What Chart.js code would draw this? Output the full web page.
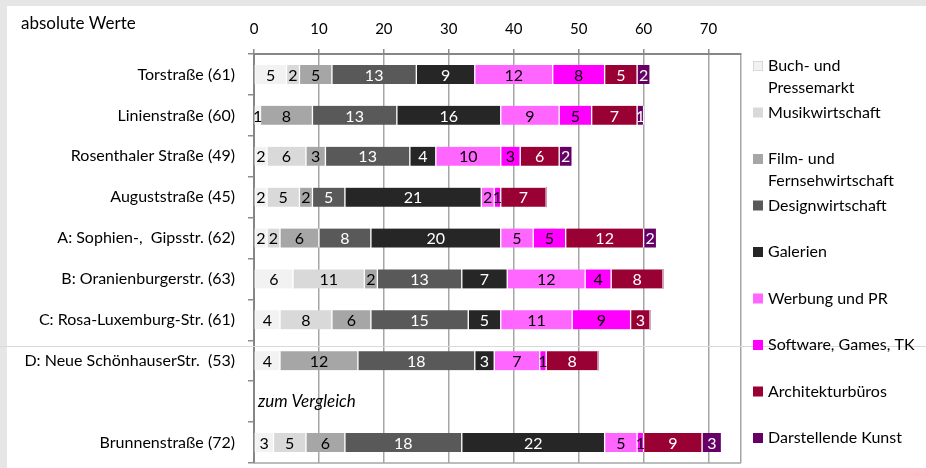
<!DOCTYPE html>
<html>
<head>
<meta charset="utf-8">
<script src="https://cdn.jsdelivr.net/npm/chart.js@4/dist/chart.umd.min.js"></script>
<style>
  html, body { margin: 0; padding: 0; background: #ffffff; }
  #wrap { position: relative; width: 926px; height: 468px; }
  canvas { display: block; }
</style>
</head>
<body>
<div id="wrap"><canvas id="c" width="926" height="468"></canvas></div>
<script>
// Streets (total number of businesses in brackets); the empty slot holds the "zum Vergleich" note
const categories = [
  'Torstraße (61)',
  'Linienstraße (60)',
  'Rosenthaler Straße (49)',
  'Auguststraße (45)',
  'A: Sophien-,  Gipsstr. (62)',
  'B: Oranienburgerstr. (63)',
  'C: Rosa-Luxemburg-Str. (61)',
  'D: Neue SchönhauserStr.  (53)',
  '',
  'Brunnenstraße (72)'
];

// Business counts per branch, one value per street
const buchPresse     = [5, 1, 2, 2, 2, 6, 4, 4, null, 3];
const musik          = [2, 0, 6, 5, 2, 11, 8, 0, null, 5];
const filmFernsehen  = [5, 8, 3, 2, 6, 2, 6, 12, null, 6];
const design         = [13, 13, 13, 5, 8, 13, 15, 18, null, 18];
const galerien       = [9, 16, 4, 21, 20, 7, 5, 3, null, 22];
const werbungPR      = [12, 9, 10, 2, 5, 12, 11, 7, null, 5];
const softwareGames  = [8, 5, 3, 1, 5, 4, 9, 1, null, 1];
const architektur    = [5, 7, 6, 7, 12, 8, 3, 8, null, 9];
const darstellende   = [2, 1, 2, 0, 2, 0, 0, 0, null, 3];

const seriesNames = [
  ['Buch- und', 'Pressemarkt'],
  ['Musikwirtschaft'],
  ['Film- und', 'Fernsehwirtschaft'],
  ['Designwirtschaft'],
  ['Galerien'],
  ['Werbung und PR'],
  ['Software, Games, TK'],
  ['Architekturbüros'],
  ['Darstellende Kunst']
];
const seriesValues = [buchPresse, musik, filmFernsehen, design, galerien, werbungPR, softwareGames, architektur, darstellende];
const seriesColors = ['#f2f2f2', '#d9d9d9', '#a6a6a6', '#595959', '#262626', '#ff66ff', '#ff00ff', '#990033', '#660066'];
const labelColors  = ['#000000', '#000000', '#000000', '#ffffff', '#ffffff', '#000000', '#000000', '#ffffff', '#ffffff'];

const xTicks = [0, 10, 20, 30, 40, 50, 60, 70];
const axisTitle = 'absolute Werte';
const compareNote = 'zum Vergleich';

const FONT = "Lato, 'Liberation Sans', sans-serif";

const datasets = seriesValues.map((vals, i) => ({
  label: seriesNames[i].join(' '),
  data: vals,
  backgroundColor: seriesColors[i],
  borderColor: '#ffffff',
  borderWidth: { left: 1, right: 1, top: 0, bottom: 0 },
  borderSkipped: false,
  barThickness: 19
}));

// Page background, frame lines, title and the comparison note
const framePlugin = {
  id: 'frame',
  beforeDraw(chart) {
    const ctx = chart.ctx;
    ctx.save();
    ctx.fillStyle = '#e6e6e6';
    ctx.fillRect(0, 0, chart.width, chart.height);
    ctx.fillStyle = '#ffffff';
    ctx.fillRect(7, 6, chart.width - 7, chart.height - 6);
    ctx.restore();
  },
  afterDraw(chart) {
    const ctx = chart.ctx;
    const a = chart.chartArea;
    ctx.save();
    // plot area bottom edge
    ctx.strokeStyle = '#a6a6a6';
    ctx.lineWidth = 1.5;
    ctx.beginPath();
    ctx.moveTo(a.left, a.bottom);
    ctx.lineTo(a.right, a.bottom);
    ctx.stroke();
    // thin separator line crossing the sheet
    ctx.strokeStyle = '#d9d9d9';
    ctx.lineWidth = 1;
    ctx.beginPath();
    ctx.moveTo(0, 346.5);
    ctx.lineTo(chart.width, 346.5);
    ctx.stroke();
    // title at the top left
    ctx.fillStyle = '#000000';
    ctx.font = '17px ' + FONT;
    ctx.textAlign = 'left';
    ctx.textBaseline = 'middle';
    ctx.fillText(axisTitle, 21, 24);
    // note in the empty slot
    const y = chart.scales.y.getPixelForValue(8);
    ctx.font = 'italic 17px ' + FONT;
    ctx.fillText(compareNote, a.left + 4, y);
    ctx.restore();
  }
};

// Value labels centred in each segment
const valueLabels = {
  id: 'valueLabels',
  afterDatasetsDraw(chart) {
    const ctx = chart.ctx;
    ctx.save();
    ctx.font = '16px ' + FONT;
    ctx.textAlign = 'center';
    ctx.textBaseline = 'middle';
    chart.data.datasets.forEach((ds, i) => {
      const meta = chart.getDatasetMeta(i);
      meta.data.forEach((el, j) => {
        const v = ds.data[j];
        if (!v) return;
        const p = el.getProps(['x', 'y', 'base'], true);
        ctx.fillStyle = labelColors[i];
        ctx.fillText(String(v), (p.x + p.base) / 2, p.y + 1);
      });
    });
    ctx.restore();
  }
};

// Legend on the right with wrapped labels
const sideLegend = {
  id: 'sideLegend',
  afterDraw(chart) {
    const ctx = chart.ctx;
    const a = chart.chartArea;
    const boxX = a.right + 12;
    const textX = a.right + 27;
    const startY = a.top + 12;
    const step = 46.5;
    ctx.save();
    ctx.font = '16px ' + FONT;
    ctx.textAlign = 'left';
    ctx.textBaseline = 'middle';
    seriesNames.forEach((lines, i) => {
      const y = startY + i * step;
      ctx.fillStyle = seriesColors[i];
      ctx.fillRect(boxX, y - 5, 10, 10);
      if (i === 0) {
        ctx.strokeStyle = '#d9d9d9';
        ctx.lineWidth = 1;
        ctx.strokeRect(boxX + 0.5, y - 4.5, 9, 9);
      }
      ctx.fillStyle = '#000000';
      lines.forEach((t, k) => ctx.fillText(t, textX, y + k * 22));
    });
    ctx.restore();
  }
};

new Chart(document.getElementById('c'), {
  type: 'bar',
  data: { labels: categories, datasets },
  options: {
    indexAxis: 'y',
    responsive: false,
    animation: false,
    devicePixelRatio: 1,
    layout: { padding: { left: 0, top: 0, right: 185, bottom: 5 } },
    plugins: {
      legend: { display: false },
      tooltip: { enabled: false }
    },
    scales: {
      x: {
        position: 'top',
        stacked: true,
        min: 0,
        max: 75,
        afterBuildTicks(scale) {
          scale.ticks = xTicks.map(v => ({ value: v })).concat([{ value: 75 }]);
        },
        afterFit(scale) {
          scale.height = 54;
          scale.paddingLeft = 0;
          scale.paddingRight = 0;
        },
        ticks: {
          padding: 11,
          color: '#000000',
          font: { family: FONT, size: 15 },
          callback: (v) => (xTicks.includes(v) ? String(v) : '')
        },
        grid: {
          color: '#a6a6a6',
          lineWidth: 1.5,
          tickLength: 5,
          tickColor: (ctx) => (ctx.tick && ctx.tick.value === 75 ? 'rgba(0,0,0,0)' : '#8c8c8c')
        },
        border: { color: '#868686', width: 2 }
      },
      y: {
        stacked: true,
        afterFit(scale) {
          scale.width = 254;
          scale.paddingTop = 0;
          scale.paddingBottom = 0;
        },
        ticks: {
          padding: 13,
          color: '#000000',
          font: { family: FONT, size: 16 }
        },
        grid: {
          offset: true,
          drawOnChartArea: false,
          tickLength: 6,
          color: '#8c8c8c',
          lineWidth: 1.5
        },
        border: { color: '#868686', width: 2 }
      }
    }
  },
  plugins: [framePlugin, valueLabels, sideLegend]
});
</script>
</body>
</html>
